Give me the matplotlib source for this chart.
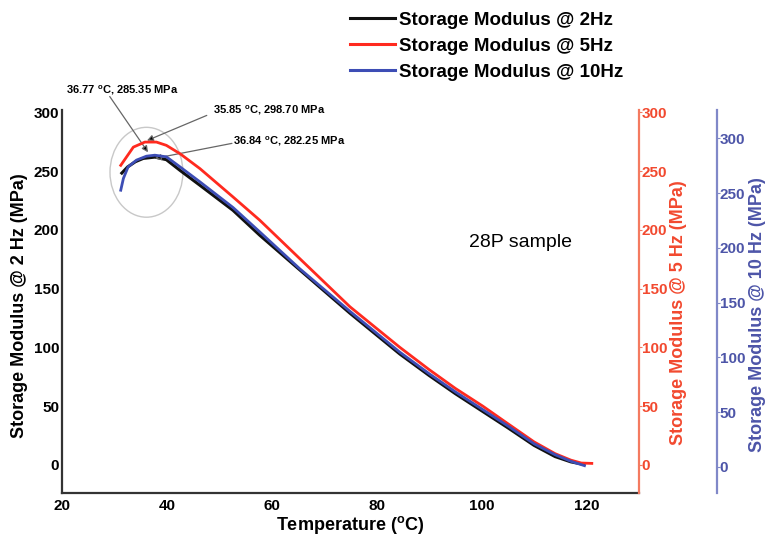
import matplotlib
matplotlib.use("Agg")
import matplotlib.pyplot as plt
from matplotlib.patches import Ellipse
from matplotlib.lines import Line2D

plt.rcParams['font.family'] = ['Liberation Sans', 'DejaVu Sans']
plt.rcParams['font.weight'] = 'bold'
plt.rcParams['axes.labelweight'] = 'bold'
plt.rcParams['mathtext.fontset'] = 'custom'
plt.rcParams['mathtext.rm'] = 'Liberation Sans:bold'
plt.rcParams['mathtext.bf'] = 'Liberation Sans:bold'
plt.rcParams['mathtext.default'] = 'bf'

# ---- data ----
t_2hz = [31.4, 32.5, 34.0, 35.5, 37.7, 39.9, 42.5, 46.3, 52.6, 57.7, 65.3, 74.9,
         84.4, 90.0, 95.0, 100.0, 105.0, 110.0, 114.0, 117.0, 119.5]
e_2hz = [248.3, 253.5, 258.0, 260.8, 261.9, 259.7, 250.6, 237.9, 216.6, 195.4, 166.0, 129.0,
         94.3, 76.0, 60.5, 46.0, 31.5, 16.5, 7.0, 2.5, 0.3]

t_5hz = [31.2, 33.6, 35.8, 38.0, 39.9, 42.5, 46.3, 52.6, 57.7, 65.3, 74.9, 84.4,
         90.0, 95.0, 100.2, 105.0, 110.0, 114.0, 117.0, 119.0, 121.0]
e_5hz = [254.9, 270.4, 274.7, 274.7, 271.9, 264.8, 252.1, 228.0, 208.2, 175.6, 134.5, 100.0,
         81.0, 65.0, 50.0, 35.0, 19.5, 9.5, 4.0, 1.5, 1.2]

t_10hz = [31.2, 31.7, 32.6, 34.2, 36.1, 37.7, 39.9, 42.5, 46.3, 52.6, 57.7, 65.3, 74.9,
          84.4, 90.0, 95.0, 100.0, 105.0, 110.0, 114.0, 117.0, 119.6]
e_10hz = [252.7, 263.4, 274.0, 280.2, 283.8, 284.7, 283.2, 274.0, 260.3, 236.9, 214.6, 181.0, 142.0,
          104.7, 85.0, 68.4, 52.9, 37.3, 21.0, 11.0, 5.0, 1.0]

x_ticks = [20, 40, 60, 80, 100, 120]
y_ticks = [0, 50, 100, 150, 200, 250, 300]

series_labels = ['Storage Modulus @ 2Hz', 'Storage Modulus @ 5Hz', 'Storage Modulus @ 10Hz']
peak_notes = ['36.77 $^{o}$C, 285.35 MPa', '35.85 $^{o}$C, 298.70 MPa', '36.84 $^{o}$C, 282.25 MPa']

# ---- colours ----
c_black = '#111111'
c_red = '#ff2a1f'
c_red_ax = '#f47a60'
c_red_txt = '#f2492f'
c_blue = '#3d4db5'
c_blue_ax = '#8088c8'
c_blue_txt = '#4d55a8'

fig = plt.figure(figsize=(7.67, 5.42), dpi=100)
ax = fig.add_axes([62/767, 1-493/542, (639-62)/767, (493-110)/542])
ax_r = ax.twinx()
ax_b = ax.twinx()

ax.plot(t_2hz, e_2hz, color=c_black, lw=2.2)
ax_r.plot(t_5hz, e_5hz, color=c_red, lw=2.0)
ax_b.plot(t_10hz, e_10hz, color=c_blue, lw=2.0)

ax.set_xlim(20, 130)
ax.set_ylim(-24, 302)
ax_r.set_ylim(-24, 302)
ax_b.set_ylim(-24, 326)

ax.set_xticks(x_ticks)
ax.set_yticks(y_ticks)
ax_r.set_yticks(y_ticks)
ax_b.set_yticks(y_ticks)

for a in (ax, ax_r, ax_b):
    a.spines['top'].set_visible(False)
ax.spines['left'].set_color('#333333')
ax.spines['bottom'].set_color('#333333')
ax.spines['left'].set_linewidth(1.6)
ax.spines['bottom'].set_linewidth(1.6)
ax.spines['right'].set_visible(False)

ax_r.spines['left'].set_visible(False)
ax_r.spines['bottom'].set_visible(False)
ax_r.spines['right'].set_color(c_red_ax)
ax_r.spines['right'].set_linewidth(1.6)

ax_b.spines['left'].set_visible(False)
ax_b.spines['bottom'].set_visible(False)
ax_b.spines['right'].set_position(('axes', 1.135))
ax_b.spines['right'].set_color(c_blue_ax)
ax_b.spines['right'].set_linewidth(1.6)

ax.tick_params(axis='both', length=0, labelsize=11, pad=4)
ax.tick_params(axis='y', pad=2)
ax_r.tick_params(axis='y', length=2, pad=0, labelsize=11, colors=c_red_ax, labelcolor=c_red_txt)
ax_b.tick_params(axis='y', length=2, pad=0, labelsize=11, colors=c_blue_ax, labelcolor=c_blue_txt)

ax.set_xlabel('Temperature ($^{o}$C)', fontsize=13, fontweight='bold')
ax.xaxis.label.set(ha='center', va='center')
ax.xaxis.set_label_coords(0.5, -0.084)
ax.set_ylabel('Storage Modulus @ 2 Hz (MPa)', fontsize=13, fontweight='bold')
ax.yaxis.label.set(ha='center', va='center')
ax.yaxis.set_label_coords(-0.073, 0.49)
ax_r.set_ylabel('Storage Modulus @ 5 Hz (MPa)', fontsize=13, fontweight='bold', color=c_red_txt)
ax_r.yaxis.label.set(ha='center', va='center')
ax_r.yaxis.set_label_coords(1.068, 0.47)
ax_b.set_ylabel('Storage Modulus @ 10 Hz (MPa)', fontsize=13, fontweight='bold', color=c_blue_txt)
ax_b.yaxis.label.set(ha='center', va='center')
ax_b.yaxis.set_label_coords(1.205, 0.465)

# highlight ellipse
ax.add_patch(Ellipse((36.1, 249), 13.9, 76.5, fill=False, ec='#c8c8c8', lw=1.0))

# annotations
ap = dict(arrowstyle='-|>', ec='#666666', fc='black', lw=0.9, mutation_scale=9, shrinkA=0, shrinkB=0)
ax.annotate('', xy=(36.4, 266), xytext=(29.1, 313.5), arrowprops=ap, annotation_clip=False)
ax.annotate('', xy=(36.2, 276), xytext=(47.6, 297.4), arrowprops=ap, annotation_clip=False)
ax.annotate('', xy=(37.7, 260.8), xytext=(52.4, 273.6), arrowprops=ap, annotation_clip=False)
ax.text(20.8, 318.6, peak_notes[0], fontsize=8, ha='left', va='center', clip_on=False)
ax.text(48.8, 301.6, peak_notes[1], fontsize=8, ha='left', va='center', clip_on=False)
ax.text(52.6, 275.3, peak_notes[2], fontsize=8, ha='left', va='center', clip_on=False)

ax.text(107.4, 189.5, '28P sample', fontsize=14, fontweight='normal', ha='center', va='center')

handles = [Line2D([], [], color=c_black, lw=2.2),
           Line2D([], [], color=c_red, lw=2.2),
           Line2D([], [], color=c_blue, lw=2.2)]
fig.legend(handles, series_labels, loc='upper left', bbox_to_anchor=(342/767, 1-4/542),
           frameon=False, handlelength=2.4, handletextpad=0.25, labelspacing=0.48,
           prop={'weight': 'bold', 'size': 13.5}, borderaxespad=0)

fig.savefig('out.png', dpi=100)
